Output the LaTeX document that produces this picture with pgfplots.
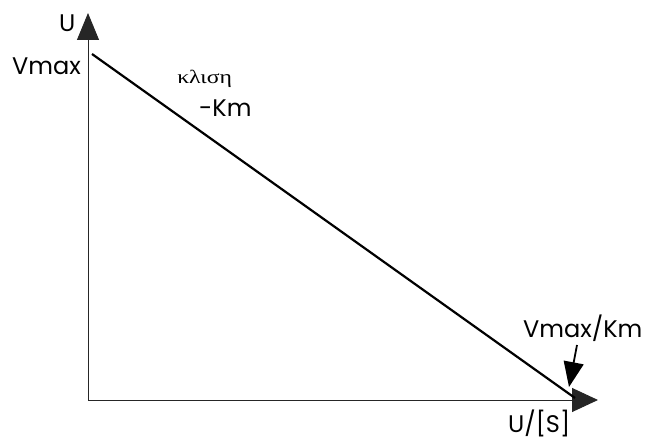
\documentclass[border=0pt]{standalone}
\usepackage{fontspec}
\setmainfont{Poppins}
\newfontfamily\greekfont{Liberation Serif}
\usepackage{pgfplots}
\pgfplotsset{compat=1.18}
\usetikzlibrary{arrows.meta}
\begin{document}
\begin{tikzpicture}[x=1pt,y=1pt]
\useasboundingbox (0,0) rectangle (645,447);
\begin{axis}[
  at={(88pt,47pt)}, anchor=south west,
  scale only axis, width=510pt, height=387pt,
  xmin=0, xmax=510, ymin=0, ymax=387,
  axis lines=left, xtick=\empty, ytick=\empty,
  axis line style={black!85, line width=0.9pt},
  x axis line style={-{Triangle[length=26pt,width=24pt]}},
  y axis line style={-{Triangle[length=27pt,width=22pt]}},
  clip=false]
% Lineweaver-Burk style line: intercept Vmax, slope -Km
\addplot[black, line width=2.2pt] coordinates {(4,346) (487,2)};
\end{axis}
\begin{scope}[every node/.style={inner sep=0pt, anchor=base west}]
\node[font=\fontsize{24}{24}\selectfont] at (59,415) {U};
\node[font=\fontsize{24}{24}\selectfont] at (12,372) {Vmax};
\node[font=\greekfont\fontsize{19}{19}\selectfont, xscale=1.25] at (177,363) {κλιση};
\node[font=\fontsize{24}{24}\selectfont] at (199,330) {-Km};
\node[font=\fontsize{24}{24}\selectfont] at (523,109) {Vmax/Km};
\node[font=\fontsize{24}{24}\selectfont] at (508,14) {U/[S]};
\end{scope}
\draw[line width=1.8pt, -{Triangle[length=25pt,width=20pt]}] (577,102) -- (569,60);
\end{tikzpicture}
\end{document}
